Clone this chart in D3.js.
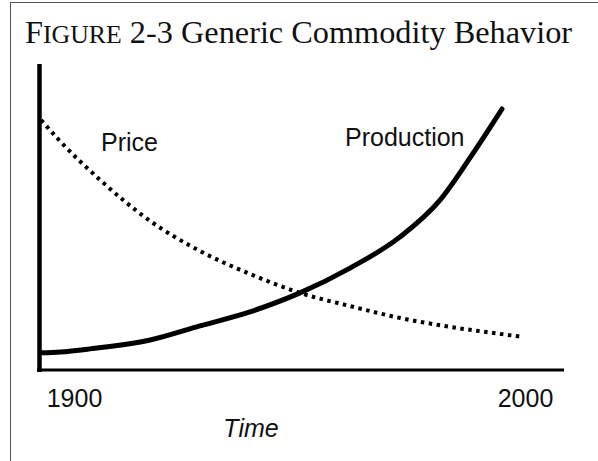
<!DOCTYPE html>
<html>
<head>
<meta charset="utf-8">
<script src="https://cdn.jsdelivr.net/npm/d3@7"></script>
<style>
  body { margin: 0; background: #fff; }
  svg { display: block; }
</style>
</head>
<body>
<svg id="chart" width="598" height="461"></svg>
<script>
// years
var prodYears = [1892.7, 1896.9, 1903.5, 1916.9, 1927.9, 1939.0, 1950.1, 1961.2, 1972.3, 1981.2, 1987.8, 1992.2, 1994.9];
var prodValues = [5.6, 5.9, 6.9, 9.8, 14.4, 19.0, 25.2, 33.3, 43.5, 55.6, 69.3, 79.1, 85.3];

var priceYears = [1892.7, 1896.9, 1905.8, 1916.9, 1927.9, 1939.0, 1950.1, 1961.2, 1972.3, 1983.4, 1994.5, 1999.6];
var priceValues = [81.7, 74.8, 62.1, 48.7, 38.9, 31.4, 25.2, 20.9, 17.0, 14.1, 11.8, 10.8];

var tickYears = [1900, 2000];

var svg = d3.select("#chart"),
  width = +svg.attr("width"),
  height = +svg.attr("height");

var x = d3.scaleLinear().domain([1900, 2000]).range([74, 525]);
var y = d3.scaleLinear().domain([0, 100]).range([370, 64]);

// frame
svg.append("rect")
  .attr("x", 10.5).attr("y", 2.5)
  .attr("width", width).attr("height", height)
  .attr("fill", "none").attr("stroke", "#555").attr("stroke-width", 1);

// title with small caps "IGURE"
var title = svg.append("text")
  .attr("x", 25).attr("y", 43)
  .attr("font-family", "'Liberation Serif', 'Times New Roman', serif")
  .attr("font-size", 32.3)
  .attr("fill", "#111");
title.append("tspan").text("F");
title.append("tspan").attr("font-size", 25.8).text("IGURE");
title.append("tspan").text(" 2-3 Generic Commodity Behavior");

// axes lines
svg.append("line")
  .attr("x1", 39.5).attr("x2", 39.5)
  .attr("y1", y(100)).attr("y2", y(0) + 2)
  .attr("stroke", "#000").attr("stroke-width", 4.5);
svg.append("line")
  .attr("x1", 37).attr("x2", 564)
  .attr("y1", y(0)).attr("y2", y(0))
  .attr("stroke", "#000").attr("stroke-width", 2.8);

var xAxis = d3.axisBottom(x).tickValues(tickYears).tickSize(0).tickPadding(19)
  .tickFormat(d3.format("d"));
var gx = svg.append("g").attr("transform", "translate(0," + y(0) + ")").call(xAxis);
gx.select(".domain").remove();
gx.selectAll("text")
  .attr("font-family", "'Liberation Sans', Arial, sans-serif")
  .attr("font-size", 25)
  .attr("fill", "#111");

svg.append("text")
  .attr("x", 251).attr("y", 437)
  .attr("text-anchor", "middle")
  .attr("font-family", "'Liberation Sans', Arial, sans-serif")
  .attr("font-style", "italic")
  .attr("font-size", 25)
  .attr("fill", "#111")
  .text("Time");

var line = d3.line()
  .x(function(d) { return x(d[0]); })
  .y(function(d) { return y(d[1]); })
  .curve(d3.curveMonotoneX);

var priceData = d3.zip(priceYears, priceValues);
var prodData = d3.zip(prodYears, prodValues);

svg.append("path")
  .datum(priceData)
  .attr("d", line)
  .attr("fill", "none")
  .attr("stroke", "#000")
  .attr("stroke-width", 4)
  .attr("stroke-dasharray", "3.5 4.5");

svg.append("path")
  .datum(prodData)
  .attr("d", line)
  .attr("fill", "none")
  .attr("stroke", "#000")
  .attr("stroke-width", 5)
  .attr("stroke-linecap", "round");

// series labels
svg.append("text")
  .attr("x", 101).attr("y", 151)
  .attr("font-family", "'Liberation Sans', Arial, sans-serif")
  .attr("font-size", 25).attr("fill", "#111")
  .text("Price");
svg.append("text")
  .attr("x", 345).attr("y", 146)
  .attr("font-family", "'Liberation Sans', Arial, sans-serif")
  .attr("font-size", 25).attr("fill", "#111")
  .text("Production");
</script>
</body>
</html>
